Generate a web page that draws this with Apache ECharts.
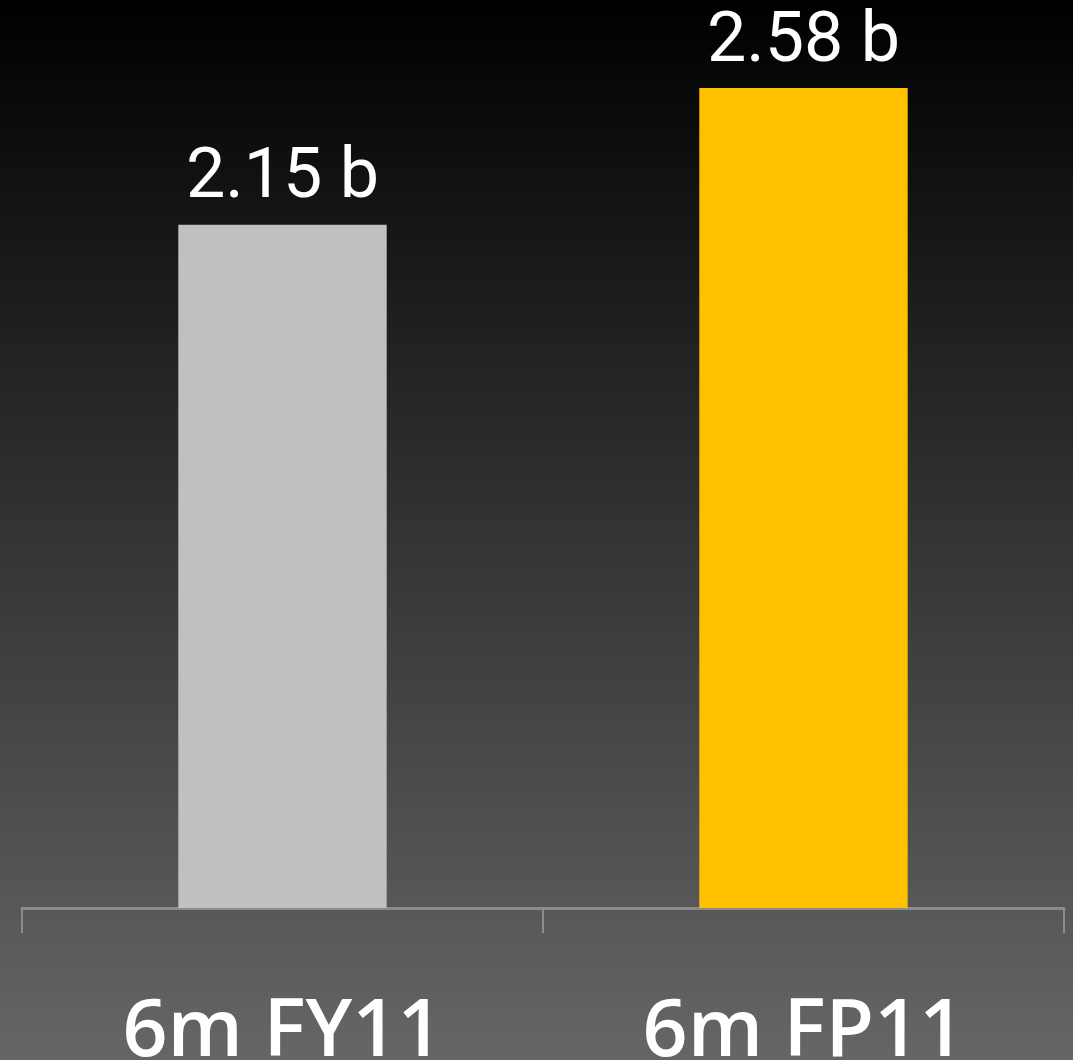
<!DOCTYPE html>
<html><head><meta charset="utf-8">
<style>html,body{margin:0;padding:0;background:#000;}#c{width:1073px;height:1060px;}</style>
<script src="https://cdn.jsdelivr.net/npm/echarts@6/dist/echarts.min.js"></script>
</head><body><div id="c"></div>
<script>
const categories = ['6m FY11', '6m FP11'];
const values = [2.15, 2.58];
const barColors = ['#c0c0c0', '#ffc000'];
const labelSuffix = ' b';

const chart = echarts.init(document.getElementById('c'));
chart.setOption({
  animation: false,
  backgroundColor: {type:'linear', x:0, y:0, x2:0, y2:1, colorStops:[
    {offset:0, color:'#000000'}, {offset:1, color:'#666666'}]},
  grid: {left: 22, right: 9, top: 0, bottom: 152, containLabel: false, outerBoundsMode: 'none'},
  xAxis: {
    type: 'category', data: categories,
    axisLine: {lineStyle: {color: '#8c8c8c', width: 3}},
    axisTick: {show: true, alignWithLabel: false, length: 25, lineStyle: {color: '#8c8c8c', width: 2}},
    axisLabel: {color: '#ffffff', fontFamily: 'Open Sans', fontWeight: 600, fontSize: 79, margin: 86}
  },
  yAxis: {type: 'value', min: 0, max: 2.857, show: false, splitLine: {show: false}},
  series: [{
    type: 'bar', barWidth: '40%',
    data: values.map((v, i) => ({value: v, itemStyle: {color: barColors[i]}})),
    label: {show: true, position: 'top', distance: 10, color: '#ffffff',
      fontFamily: 'Roboto', fontSize: 70,
      formatter: p => p.value.toFixed(2) + labelSuffix}
  }]
});
</script></body></html>
